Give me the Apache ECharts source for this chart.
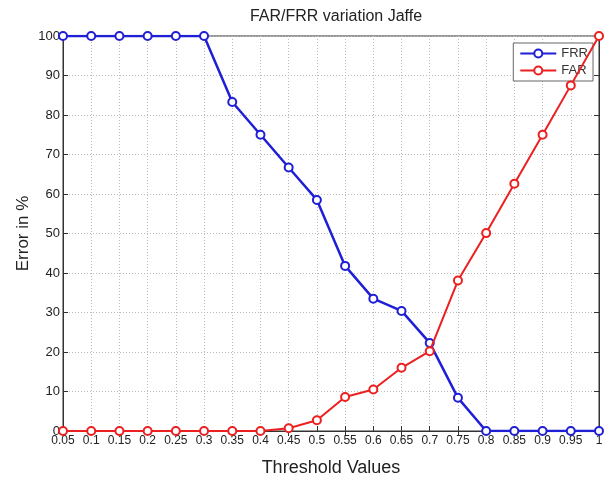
<!DOCTYPE html>
<html>
<head>
<meta charset="utf-8">
<script src="https://cdn.jsdelivr.net/npm/echarts@6/dist/echarts.min.js"></script>
<style>
html,body{margin:0;padding:0;background:#fff;}
#main{width:608px;height:482px;}
</style>
</head>
<body>
<div id="main"></div>
<script>
// threshold values on the x axis
var thresholds = ['0.05','0.1','0.15','0.2','0.25','0.3','0.35','0.4','0.45','0.5',
    '0.55','0.6','0.65','0.7','0.75','0.8','0.85','0.9','0.95','1'];
// false rejection rate
var frrData = [100,100,100,100,100,100,83.3,75,66.7,58.5,41.8,33.5,30.4,22.3,8.4,0,0,0,0,0];
// false acceptance rate
var farData = [0,0,0,0,0,0,0,0,0.7,2.7,8.6,10.5,16,20.2,38.1,50.1,62.6,75,87.5,100];
var yTicks = [0,10,20,30,40,50,60,70,80,90,100];

var myChart = echarts.init(document.getElementById('main'));
var fontName = 'Liberation Sans, Arial, sans-serif';
var option = {
    animation: false,
    backgroundColor: '#fff',
    title: {
        text: 'FAR/FRR variation Jaffe',
        left: 331,
        top: 4,
        textAlign: 'center',
        textStyle: {fontFamily: fontName, fontSize: 16, fontWeight: 'normal', color: '#222'}
    },
    legend: {
        data: ['FRR', 'FAR'],
        orient: 'vertical',
        right: 15,
        top: 43,
        itemWidth: 36,
        itemHeight: 10,
        itemGap: 4,
        padding: [4, 5, 4, 6],
        borderColor: '#666',
        borderWidth: 1,
        borderRadius: 0,
        backgroundColor: '#fff',
        textStyle: {fontFamily: fontName, fontSize: 13, color: '#333'}
    },
    grid: {
        left: 63,
        right: 9,
        top: 36,
        bottom: 39,
        show: true,
        borderColor: '#333',
        borderWidth: 1
    },
    xAxis: [{
        type: 'category',
        data: thresholds,
        boundaryGap: false,
        name: 'Threshold Values',
        nameLocation: 'middle',
        nameGap: 28,
        nameMoveOverlap: false,
        nameTextStyle: {fontFamily: fontName, fontSize: 18, color: '#222'},
        axisLine: {lineStyle: {color: '#333'}},
        axisTick: {inside: true, length: 5, alignWithLabel: true, lineStyle: {color: '#333'}},
        axisLabel: {fontFamily: fontName, fontSize: 12, color: '#222', margin: 4, interval: 0},
        splitLine: {show: true, lineStyle: {color: '#bbb', type: [1, 2]}}
    }, {
        type: 'category',
        data: thresholds,
        boundaryGap: false,
        position: 'top',
        axisLine: {lineStyle: {color: '#333'}},
        axisTick: {inside: true, length: 5, lineStyle: {color: '#333'}},
        axisLabel: {show: false}
    }],
    yAxis: [{
        type: 'value',
        min: 0,
        max: 100,
        interval: 10,
        name: 'Error in %',
        nameLocation: 'middle',
        nameGap: 31,
        nameMoveOverlap: false,
        nameTextStyle: {fontFamily: fontName, fontSize: 17, color: '#222'},
        axisLine: {show: true, lineStyle: {color: '#333'}},
        axisTick: {show: true, inside: true, length: 5, lineStyle: {color: '#333'}},
        axisLabel: {fontFamily: fontName, fontSize: 13, color: '#222', margin: 3,
            formatter: function (v) { return yTicks.indexOf(v) >= 0 ? String(v) : ''; }},
        splitLine: {show: true, lineStyle: {color: '#bbb', type: [1, 2]}}
    }, {
        type: 'value',
        min: 0,
        max: 100,
        interval: 10,
        position: 'right',
        axisLine: {show: true, lineStyle: {color: '#333'}},
        axisTick: {show: true, inside: true, length: 5, lineStyle: {color: '#333'}},
        axisLabel: {show: false},
        splitLine: {show: false}
    }],
    series: [
        {
            name: 'FRR',
            type: 'line',
            data: frrData,
            symbol: 'circle',
            symbolSize: 8,
            color: '#1f1fd6',
            lineStyle: {width: 2.5, color: '#1f1fd6'},
            itemStyle: {color: '#fff', borderColor: '#1f1fd6', borderWidth: 2},
            z: 3
        },
        {
            name: 'FAR',
            type: 'line',
            data: farData,
            symbol: 'circle',
            symbolSize: 8,
            color: '#ec2020',
            lineStyle: {width: 2, color: '#ec2020'},
            itemStyle: {color: '#fff', borderColor: '#ec2020', borderWidth: 2},
            z: 4
        }
    ]
};
myChart.setOption(option);
</script>
</body>
</html>
